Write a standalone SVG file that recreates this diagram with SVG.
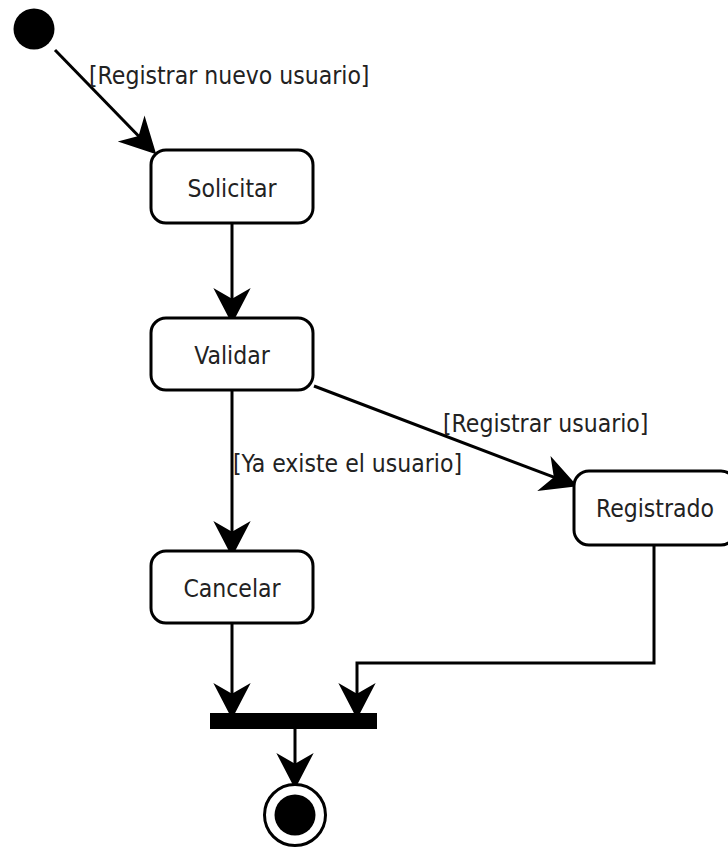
<svg xmlns="http://www.w3.org/2000/svg" width="728" height="848" viewBox="0 0 728 848">
<style>
.box{fill:#fff;stroke:#000;stroke-width:3}
.t{font-family:"DejaVu Sans Condensed","DejaVu Sans",Verdana,sans-serif;font-size:24.5px;fill:#222}
.c{text-anchor:middle}
.e{fill:none;stroke:#000;stroke-width:3}
</style>
<defs>
<marker id="arr" markerUnits="userSpaceOnUse" markerWidth="40" markerHeight="40" viewBox="-10 -15 30 30" refX="0" refY="0" orient="auto" overflow="visible">
<path d="M18,0 L-9,-14 L-1,0 L-9,14 Z" fill="#000"/>
</marker>
</defs>
<rect width="728" height="848" fill="#fff"/>
<g id="connectors">
<path class="e" d="M55,50 L139.5,137" marker-end="url(#arr)"/>
<path class="e" d="M232,223 V300" marker-end="url(#arr)"/>
<path class="e" d="M314,386 L555.1,477.7" marker-end="url(#arr)"/>
<path class="e" d="M232,390 V533" marker-end="url(#arr)"/>
<path class="e" d="M232,623 V695" marker-end="url(#arr)"/>
<path class="e" d="M654,545 V663 H357 V695" marker-end="url(#arr)"/>
<path class="e" d="M295,728 V765" marker-end="url(#arr)"/>
<text class="t" x="89" y="84">[Registrar nuevo usuario]</text>
<text class="t" x="443" y="432">[Registrar usuario]</text>
<text class="t" x="233" y="472">[Ya existe el usuario]</text>
</g>
<g id="start"><circle cx="34" cy="29" r="20.5" fill="#000"/></g>
<g id="solicitar"><rect class="box" x="151" y="150" width="162" height="73" rx="15"/><text class="t c" x="232" y="197">Solicitar</text></g>
<g id="validar"><rect class="box" x="151" y="318" width="162" height="72" rx="15"/><text class="t c" x="232" y="364">Validar</text></g>
<g id="registrado"><rect class="box" x="574" y="471" width="162" height="74" rx="15"/><text class="t c" x="655" y="517">Registrado</text></g>
<g id="cancelar"><rect class="box" x="151" y="551" width="162" height="72" rx="15"/><text class="t c" x="232" y="597">Cancelar</text></g>
<g id="join"><rect x="210" y="713" width="167" height="16" fill="#000"/></g>
<g id="end"><circle cx="295" cy="815" r="30.5" fill="#fff" stroke="#000" stroke-width="3"/><circle cx="295" cy="815" r="20.5" fill="#000"/></g>
</svg>
